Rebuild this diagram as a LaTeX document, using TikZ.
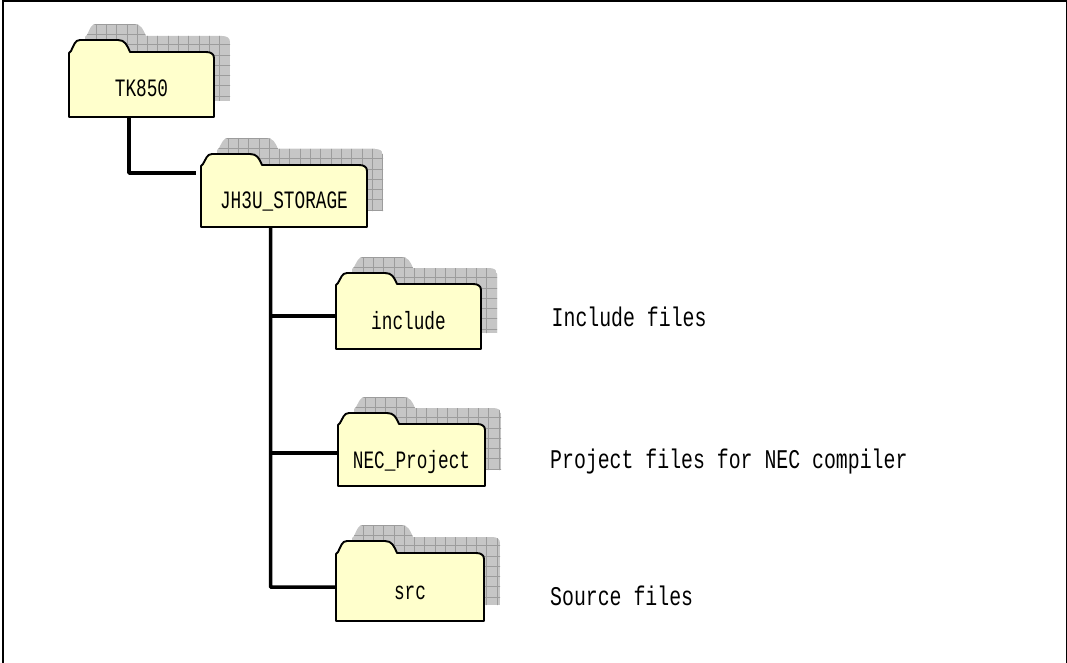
\documentclass[tikz,border=0pt]{standalone}
\usepackage{fontspec}
\newfontfamily\gothic[FakeStretch=0.71]{Liberation Mono}
\newfontfamily\gothicwide[FakeStretch=0.735]{Liberation Mono}
\definecolor{foldercolor}{HTML}{FFFFCC}
\definecolor{shadecolor}{HTML}{C6C6C6}
\definecolor{shadeline}{HTML}{9C9C9C}
\tikzset{
    frameline/.style={draw=black, line width=2pt},
    folderline/.style={draw=black, fill=foldercolor, line width=1.9pt, line join=round},
    gridline/.style={draw=shadeline, line width=0.7pt},
    conn/.style={draw=black, line width=3.5pt, line join=round},
    label/.style={font=\gothic\fontsize{25}{25}\selectfont, inner sep=0pt, text height=16pt, text depth=0pt},
    note/.style={font=\gothicwide\fontsize{27}{27}\selectfont, inner sep=0pt, text height=17.5pt, text depth=0pt, anchor=west}
}
% left, tab top, body top, right, bottom
\newcommand{\folderpath}[5]{(#1,#3+1) -- (#1+2,#3-1)
    .. controls (#1+5,#2+5) and (#1+6,#2) .. (#1+11,#2) -- (#1+49,#2)
    .. controls (#1+56,#2) and (#1+58,#3-7) .. (#1+61,#3) -- (#4-8,#3)
    .. controls (#4-3,#3) and (#4,#3+2) .. (#4,#3+6) -- (#4,#5) -- (#1,#5) -- cycle}
\newcommand{\folder}[5]{
    \begin{scope}[shift={(16,-16)}]
        \clip \folderpath{#1}{#2}{#3}{#4}{#5};
        \fill[shadecolor] (#1,#2) rectangle (#4,#5);
        \foreach \k in {0,...,18}
            \draw[gridline] (#1+11+\k*10.3,#2) -- ++(0,100);
        \foreach \k in {0,...,10}
            \draw[gridline] (#1,#2+\k*10.3) -- ++(200,0);
    \end{scope}
    \path[folderline] \folderpath{#1}{#2}{#3}{#4}{#5};
}
\begin{document}
\begin{tikzpicture}[x=1pt, y=-1pt]
    \useasboundingbox (0,0) rectangle (1067,663);
    \draw[frameline] (3,664) -- (3,1) -- (1067,1) -- (1067,664);

    \folder{69}{40}{52}{214}{117}
    \folder{201}{154}{165}{367}{227}
    \folder{336}{273}{284}{481}{349}
    \folder{338}{413}{424}{485}{486}
    \folder{336}{541}{553}{484}{621}

    \node[label, minimum width=145pt, minimum height=56pt] (tk850) at (141.5,89) {TK850};
    \node[label, minimum width=166pt, minimum height=53pt] (jh3u) at (284,200.5) {JH3U\_STORAGE};
    \node[label, minimum width=145pt, minimum height=55pt] (include) at (408.5,321.5) {include};
    \node[label, minimum width=147pt, minimum height=59pt] (necproject) at (411.5,460) {NEC\_Project};
    \node[label, minimum width=148pt, minimum height=60pt] (src) at (410,591) {src};

    \draw[conn] ([xshift=-12.5pt]tk850.south) |- ([xshift=-5pt,yshift=27.5pt]jh3u.west);
    \draw[conn] ([xshift=-13.5pt]jh3u.south) -- ++(0,360) -- ([yshift=4pt]src.west);
    \draw[conn] ([yshift=5.5pt]include.west) -- ++(-67,0);
    \draw[conn] ([yshift=7pt]necproject.west) -- ++(-68,0);

    \node[note] (includenote) at (551.5,318) {Include files};
    \node[note] (necnote) at (550,460) {Project files for NEC compiler};
    \node[note] (srcnote) at (550,596.5) {Source files};
\end{tikzpicture}
\end{document}
